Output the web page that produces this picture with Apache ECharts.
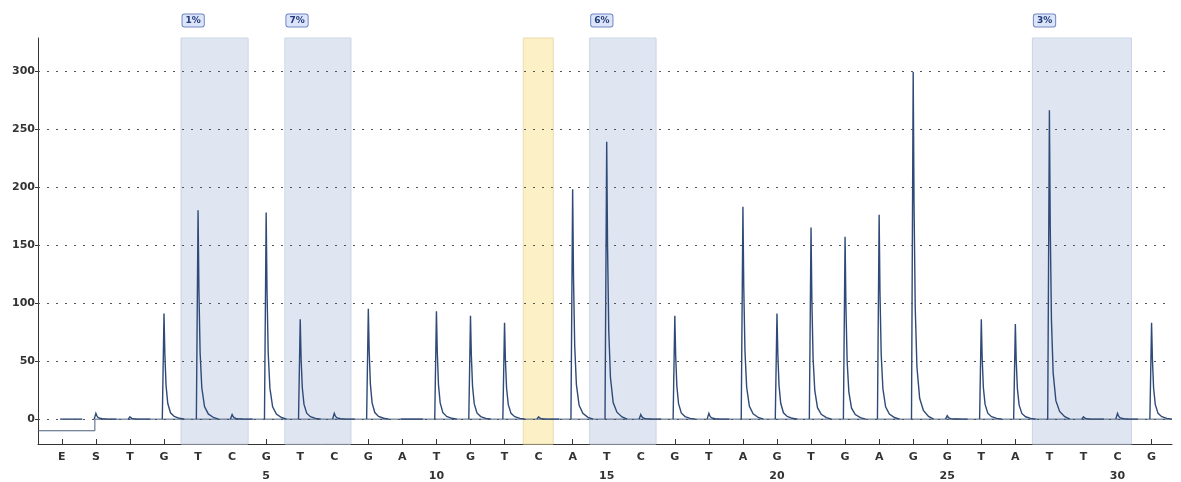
<!DOCTYPE html>
<html>
<head>
<meta charset="utf-8">
<script src="https://cdn.jsdelivr.net/npm/echarts@6/dist/echarts.min.js"></script>
<style>
  html, body { margin: 0; padding: 0; background: #fff; }
  #chart { width: 1181px; height: 482px; }
</style>
</head>
<body>
<div id="chart"></div>
<script>
// dispensation order (E = enzyme, S = substrate)
const dispensations = ['E', 'S', 'T', 'G', 'T', 'C', 'G', 'T', 'C', 'G', 'A', 'T', 'G', 'T', 'C', 'A', 'T', 'C', 'G', 'T', 'A', 'G', 'T', 'G', 'A', 'G', 'G', 'T', 'A', 'T', 'T', 'C', 'G']
// peak height at each dispensation
const peakHeights = [0, 5, 2, 91, 180, 4, 178, 86, 5, 95, 0, 93, 89, 83, 2, 198, 239, 4, 89, 5, 183, 91, 165, 157, 176, 299, 3, 86, 82, 266, 2, 5, 83]
const yTicks = [0, 50, 100, 150, 200, 250, 300]
// variable positions (blue) and the bisulfite control (yellow)
const varStart = [3.5, 6.55, 15.5, 28.5]
const varEnd = [5.47, 8.49, 17.45, 31.41]
const varLabels = ['1%', '7%', '6%', '3%']
const ctrlRange = [13.55, 14.43]
// trace level before the substrate is added
const baseline = [[-0.7, -10], [0.97, -10], [0.97, 0], [32.6, 0]]

const idx = dispensations.map((d, i) => i)
const peakData = peakHeights.map((h, i) => [i, h])

// peak shape: steep rise, fast decay
const tailDx = [-0.05, 0, 0.025, 0.06, 0.11, 0.19, 0.3, 0.45, 0.6]
const tailFrac = [0, 1, 0.62, 0.32, 0.15, 0.06, 0.025, 0.008, 0]

const chart = echarts.init(document.getElementById('chart'))

const areas = varStart.map((s, i) => [
  { xAxis: s, name: varLabels[i] },
  { xAxis: varEnd[i] },
])
areas.push([
  {
    xAxis: ctrlRange[0],
    itemStyle: { color: '#fcf1c6', borderColor: '#eadcaa', borderWidth: 1 },
    label: { show: false },
  },
  { xAxis: ctrlRange[1] },
])

const option = {
  animation: false,
  grid: { left: 38, right: 9, top: 38, bottom: 36 },
  xAxis: {
    type: 'value',
    min: -0.7,
    max: 32.6,
    axisLine: { onZero: false, lineStyle: { color: '#333', width: 1 } },
    axisTick: { customValues: idx, inside: true, length: 5, lineStyle: { color: '#333' } },
    splitLine: { show: false },
    axisLabel: {
      customValues: idx,
      margin: 4,
      formatter: (v) => {
        const i = Math.round(v)
        const num = i >= 6 && (i - 1) % 5 === 0 ? i - 1 : null
        return '{l|' + dispensations[i] + '}' + (num ? '\n{n|' + num + '}' : '')
      },
      rich: {
        l: { fontFamily: 'DejaVu Sans', fontWeight: 'bold', fontSize: 11, color: '#333', lineHeight: 19 },
        n: { fontFamily: 'DejaVu Sans', fontWeight: 'bold', fontSize: 11, color: '#333', lineHeight: 19 },
      },
    },
  },
  yAxis: {
    type: 'value',
    min: -21.4,
    max: 328.3,
    axisLine: { show: true, onZero: false, lineStyle: { color: '#333' } },
    axisTick: { show: true, customValues: yTicks, length: 3, lineStyle: { color: '#333' } },
    splitLine: { show: false },
    axisLabel: {
      customValues: yTicks,
      margin: 3,
      fontFamily: 'DejaVu Sans',
      fontWeight: 'bold',
      fontSize: 11,
      color: '#333',
    },
  },
  series: [
    {
      type: 'line',
      data: baseline,
      symbol: 'none',
      lineStyle: { color: '#4a5f80', width: 1 },
      z: 3,
      markLine: {
        silent: true,
        symbol: 'none',
        label: { show: false },
        lineStyle: { color: '#555', type: [2, 7], width: 1 },
        data: yTicks.map((v) => ({ yAxis: v })),
      },
      markArea: {
        silent: true,
        itemStyle: { color: '#dfe6f1', borderColor: '#cbd5e6', borderWidth: 1 },
        label: {
          show: true,
          position: [2, -23],
          formatter: '{b}',
          fontFamily: 'DejaVu Sans',
          fontWeight: 'bold',
          fontSize: 9,
          color: '#22397a',
          backgroundColor: '#dbe4f8',
          borderColor: '#6f86c2',
          borderWidth: 1,
          borderRadius: 2,
          padding: [2, 3, 1, 3],
        },
        data: areas,
      },
    },
    {
      type: 'custom',
      data: peakData,
      clip: true,
      z: 4,
      renderItem: (params, api) => {
        const x = api.value(0)
        const h = api.value(1)
        const pts = tailDx.map((d, k) => api.coord([x + d, h * tailFrac[k]]))
        return {
          type: 'polyline',
          shape: { points: pts },
          style: { stroke: '#2f4a78', lineWidth: 1.4, fill: null },
        }
      },
    },
  ],
}

chart.setOption(option)
</script>
</body>
</html>
